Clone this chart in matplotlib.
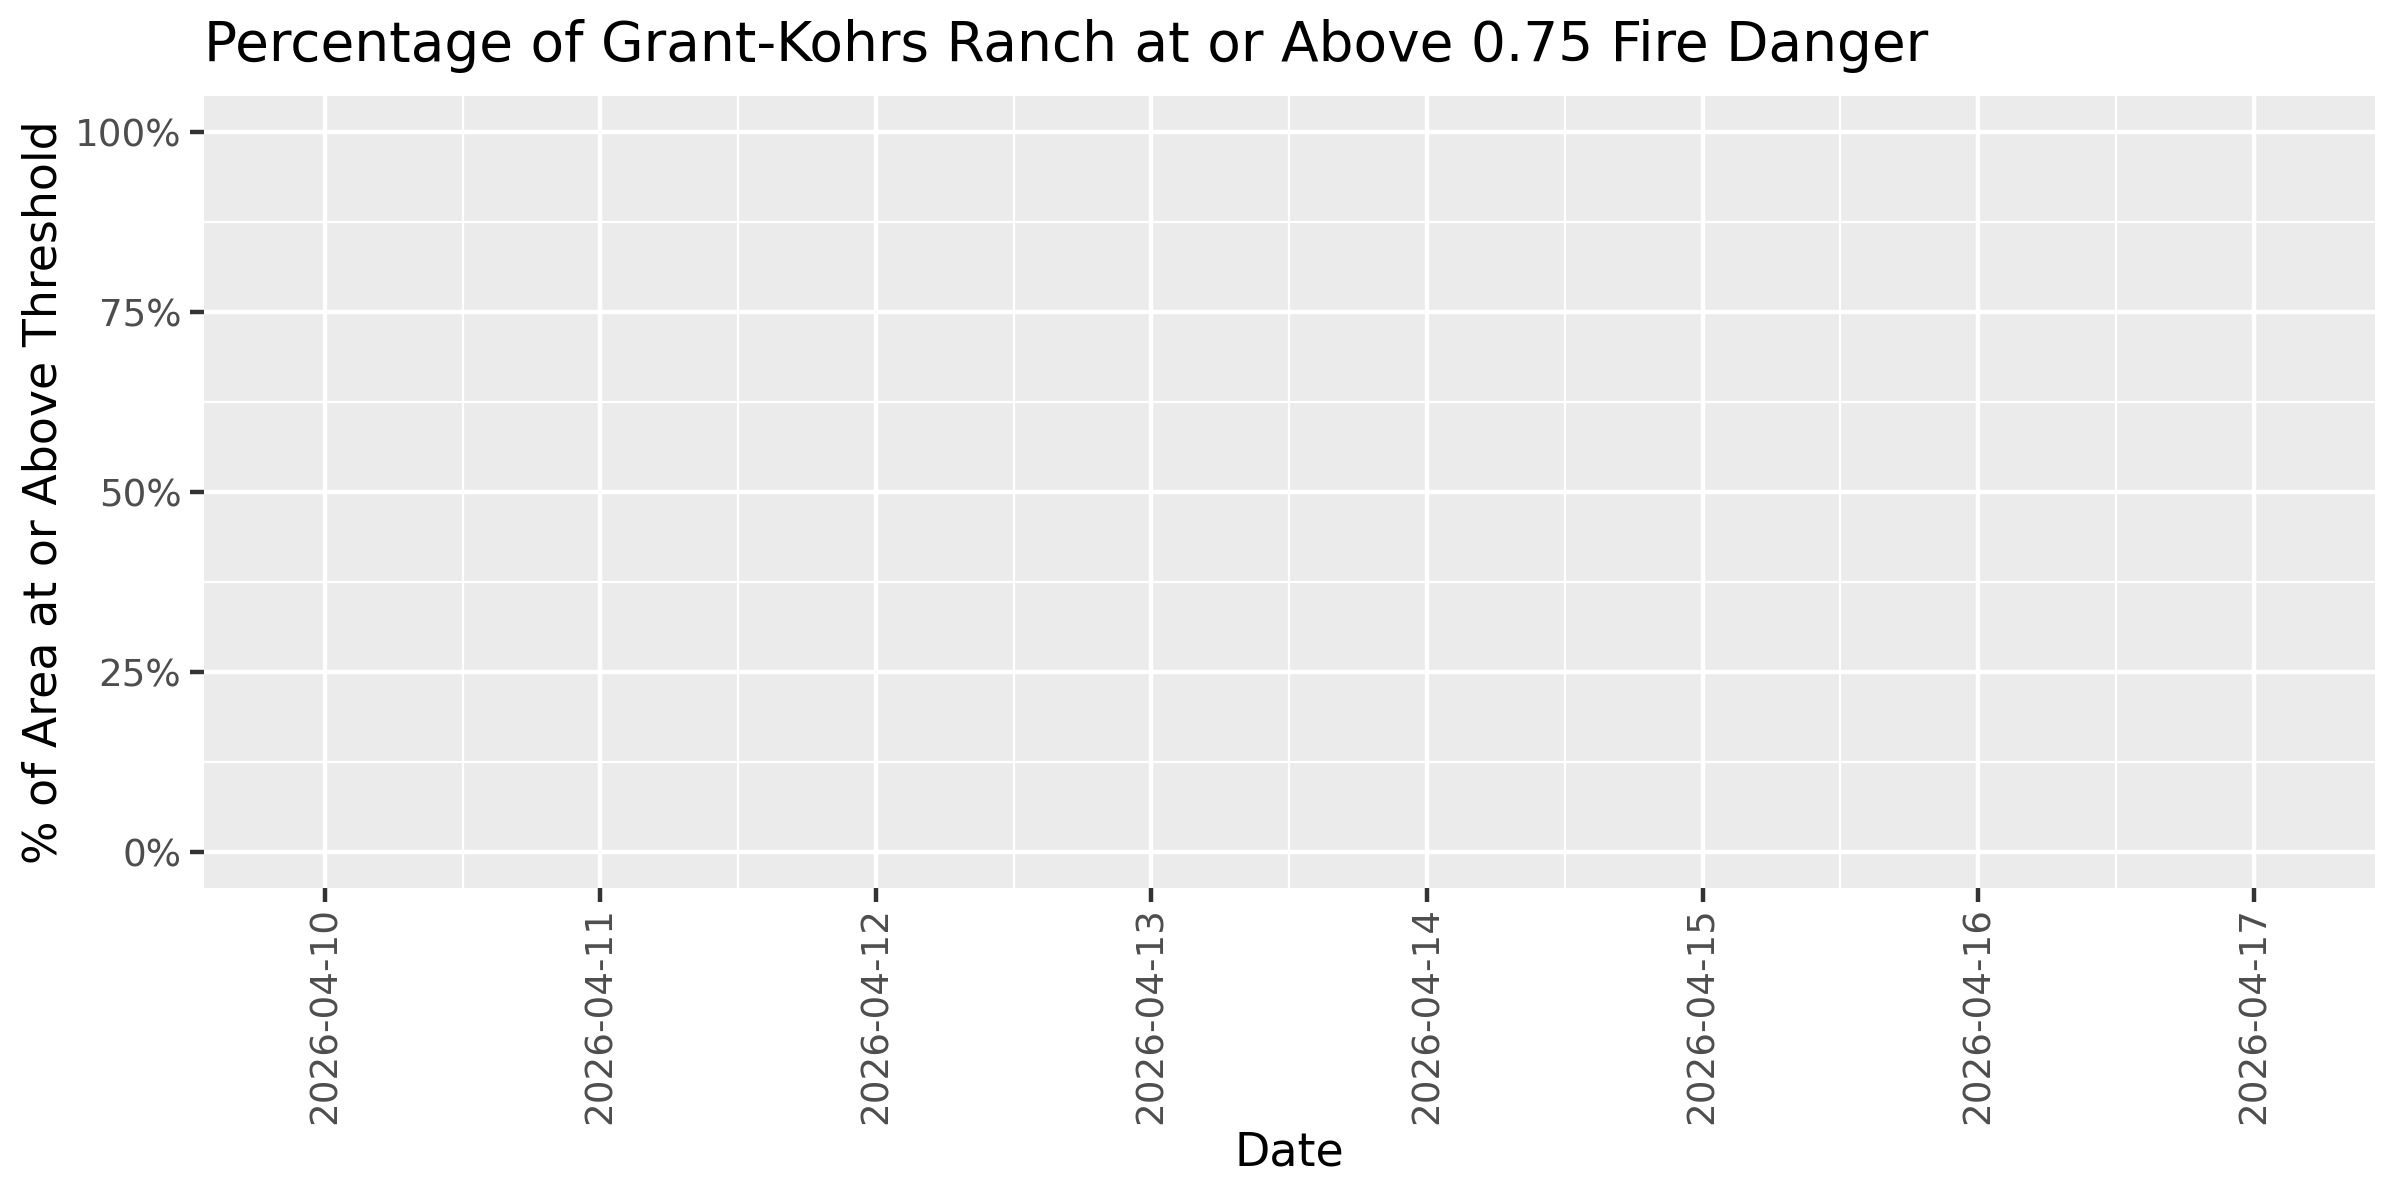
import matplotlib
matplotlib.use("Agg")
import matplotlib.pyplot as plt
import matplotlib.dates as mdates
import numpy as np
import pandas as pd
from matplotlib.ticker import FixedLocator

# Data (no visible values in the reference: the series is empty)
dates = ["2026-04-10", "2026-04-11", "2026-04-12", "2026-04-13",
         "2026-04-14", "2026-04-15", "2026-04-16", "2026-04-17"]
pct_values = [np.nan] * len(dates)
y_ticks = [0.0, 0.25, 0.5, 0.75, 1.0]
y_tick_labels = ["0%", "25%", "50%", "75%", "100%"]

title = "Percentage of Grant-Kohrs Ranch at or Above 0.75 Fire Danger"
xlabel = "Date"
ylabel = "% of Area at or Above Threshold"

plt.rcParams['font.family'] = ['DejaVu Sans']

x = pd.to_datetime(dates)
xn = mdates.date2num(x)

fig = plt.figure(figsize=(12, 6), dpi=200)
ax = fig.add_axes([0.0848, 0.26, 0.9048, 0.66])
ax.set_facecolor("#EBEBEB")
for s in ax.spines.values():
    s.set_visible(False)

ax.plot(xn, pct_values, color="black", lw=1.2)

ax.set_xlim(xn[0] - 0.44, xn[-1] + 0.44)
ax.set_ylim(-0.05, 1.05)

ax.xaxis.set_major_locator(FixedLocator(xn))
ax.set_xticklabels(dates, rotation=90, color="#4D4D4D", fontsize=13.4)
ax.xaxis.set_minor_locator(FixedLocator(list(xn[:-1] + 0.5)))
ax.yaxis.set_major_locator(FixedLocator(y_ticks))
ax.set_yticklabels(y_tick_labels, color="#4D4D4D", fontsize=13.4)
ax.yaxis.set_minor_locator(FixedLocator([0.125, 0.375, 0.625, 0.875]))

ax.tick_params(axis="both", which="major", length=5, width=1.6, color="#333333", pad=3)
ax.tick_params(axis="x", which="major", pad=2)
ax.tick_params(axis="both", which="minor", length=0)

ax.grid(True, which="major", color="white", lw=1.6)
ax.grid(True, which="minor", color="white", lw=0.8)
ax.set_axisbelow(True)

ax.set_xlabel(xlabel, fontsize=16.5, color="black", labelpad=2)
ax.set_ylabel(ylabel, fontsize=16.5, color="black", labelpad=3)
fig.text(0.0848, 0.962, title, fontsize=19.8, color="black", ha="left", va="center")

fig.savefig("out.png", dpi=200)
